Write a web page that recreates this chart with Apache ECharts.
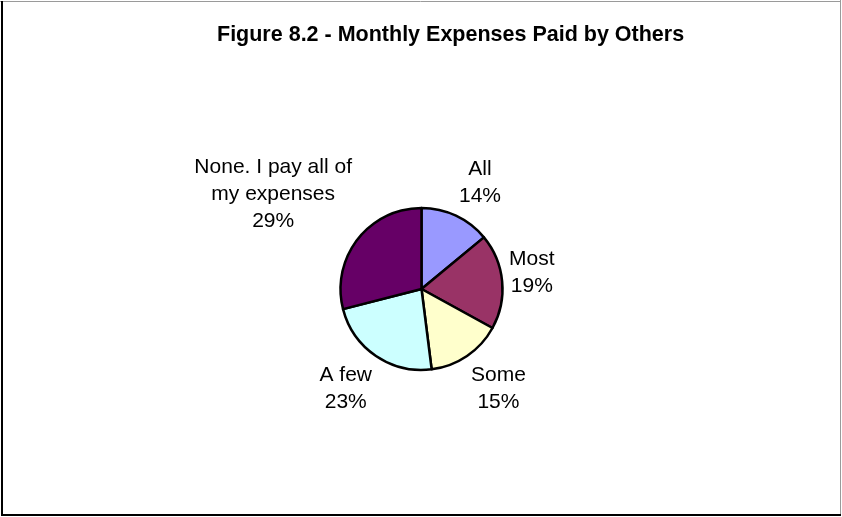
<!DOCTYPE html>
<html>
<head>
<meta charset="utf-8">
<script src="https://cdn.jsdelivr.net/npm/echarts@6/dist/echarts.min.js"></script>
<style>
  html, body { margin: 0; padding: 0; background: #fff; }
  #chart { width: 842px; height: 517px; }
</style>
</head>
<body>
<div id="chart"></div>
<script>
// Share of monthly expenses paid by others (percent of respondents)
const categories = ['All', 'Most', 'Some', 'A few', 'None. I pay all of\nmy expenses'];
const shares = [14, 19, 15, 23, 29];
const sliceColors = ['#9999FF', '#993366', '#FFFFCC', '#CCFFFF', '#660066'];

const PIE_CX = 421.5, PIE_CY = 289, PIE_R = 81;
const LABEL_GAP = 88;   // distance from centre to the label box corner

const total = shares.reduce((a, b) => a + b, 0);
// mid-angle of each slice, measured clockwise from 12 o'clock
const midAngles = [];
let acc = 0;
shares.forEach(v => {
  midAngles.push((acc + v / 2) / total * Math.PI * 2);
  acc += v;
});

const chart = echarts.init(document.getElementById('chart'), null, { renderer: 'canvas' });

chart.setOption({
  animation: false,
  backgroundColor: '#fff',
  title: {
    text: 'Figure 8.2 - Monthly Expenses Paid by Others',
    left: 212,
    top: 19,
    textStyle: {
      fontFamily: 'Liberation Sans, Arial, sans-serif',
      fontSize: 21.5,
      fontWeight: 'bold',
      color: '#000'
    }
  },
  graphic: [
    { type: 'line', shape: { x1: 0, y1: 1.5, x2: 841, y2: 1.5 }, style: { stroke: '#9a9a9a', lineWidth: 1 } },
    { type: 'line', shape: { x1: 840.5, y1: 0, x2: 840.5, y2: 516 }, style: { stroke: '#9a9a9a', lineWidth: 1 } },
    { type: 'line', shape: { x1: 2, y1: 1, x2: 2, y2: 516 }, style: { stroke: '#000', lineWidth: 2 } },
    { type: 'line', shape: { x1: 1, y1: 515, x2: 841, y2: 515 }, style: { stroke: '#000', lineWidth: 2 } }
  ],
  series: [{
    type: 'pie',
    center: [PIE_CX, PIE_CY],
    radius: PIE_R,
    startAngle: 90,
    clockwise: true,
    avoidLabelOverlap: false,
    data: categories.map((name, i) => ({
      name: name,
      value: shares[i],
      itemStyle: { color: sliceColors[i] }
    })),
    itemStyle: { borderColor: '#000', borderWidth: 2.5 },
    emphasis: { disabled: true },
    label: {
      show: true,
      position: 'outside',
      formatter: p => p.name + '\n' + p.value + '%',
      fontFamily: 'Liberation Sans, Arial, sans-serif',
      fontSize: 21,
      lineHeight: 27,
      color: '#000'
    },
    labelLine: { show: false },
    labelLayout: function (params) {
      const a = midAngles[params.dataIndex];
      const ux = Math.sin(a), uy = -Math.cos(a);
      const hw = params.labelRect.width / 2;
      const hh = params.labelRect.height / 2;
      const clamp = v => Math.max(-1, Math.min(1, v));
      return {
        x: PIE_CX + ux * LABEL_GAP + clamp(ux * 3) * hw,
        y: PIE_CY + uy * LABEL_GAP + clamp(uy * 3) * hh,
        align: 'center',
        verticalAlign: 'middle'
      };
    }
  }]
});
</script>
</body>
</html>
